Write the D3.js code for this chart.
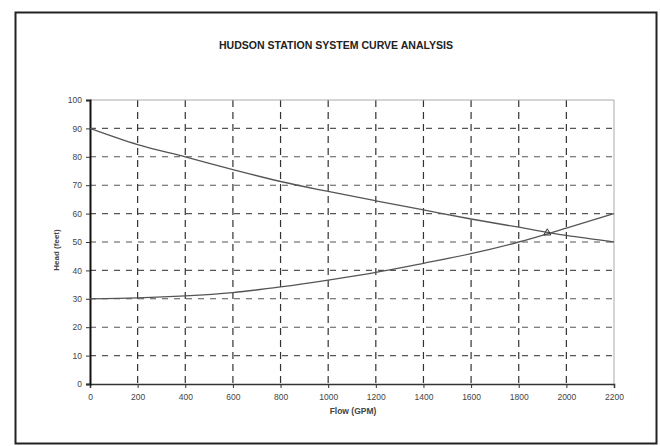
<!DOCTYPE html>
<html>
<head>
<meta charset="utf-8">
<script src="https://cdn.jsdelivr.net/npm/d3@7/dist/d3.min.js"></script>
<style>
  html, body { margin: 0; padding: 0; background: #fff; }
  svg { display: block; font-family: "Liberation Sans", Arial, sans-serif; }
</style>
</head>
<body>
<svg id="chart" width="660" height="446"></svg>
<script>
// ---- data ----
const flows = [0, 200, 400, 600, 800, 1000, 1200, 1400, 1600, 1800, 2000, 2200];
const pumpHead = [90, 84.3, 80, 75.5, 71.3, 67.8, 64.5, 61.3, 58.1, 55.2, 52.3, 50];
const systemHead = [30, 30.3, 31, 32.2, 34.2, 36.6, 39.3, 42.5, 45.9, 50, 54.9, 60];
const operatingPoint = [1920, 53.2];
const xTicks = [0, 200, 400, 600, 800, 1000, 1200, 1400, 1600, 1800, 2000, 2200];
const yTicks = [0, 10, 20, 30, 40, 50, 60, 70, 80, 90, 100];
const titleText = "HUDSON STATION SYSTEM CURVE ANALYSIS";
const xLabel = "Flow (GPM)";
const yLabel = "Head (feet)";

// ---- layout ----
const svg = d3.select("#chart");
const mLeft = 90, mRight = 614, mTop = 100, mBottom = 384;
const x = d3.scaleLinear().domain([0, 2200]).range([mLeft, mRight]);
const y = d3.scaleLinear().domain([0, 100]).range([mBottom, mTop]);

// outer frame
svg.append("rect").attr("x", 15.5).attr("y", 12.5).attr("width", 641).attr("height", 431)
  .attr("fill", "none").attr("stroke", "#222").attr("stroke-width", 2);

// title
svg.append("text").attr("x", 336).attr("y", 49).attr("text-anchor", "middle")
  .attr("font-size", 10).attr("font-weight", "bold").attr("fill", "#222")
  .attr("textLength", 234).attr("lengthAdjust", "spacingAndGlyphs")
  .text(titleText);

// horizontal dashed gridlines
svg.append("g").selectAll("line").data(yTicks.filter(d => d > 0 && d < 100)).join("line")
  .attr("x1", mLeft).attr("x2", mRight).attr("y1", d => y(d)).attr("y2", d => y(d))
  .attr("stroke", "#555").attr("stroke-width", 1.1).attr("stroke-dasharray", "6,6");

// vertical dashed gridlines
svg.append("g").selectAll("line").data(xTicks.filter(d => d > 0 && d < 2200)).join("line")
  .attr("x1", d => x(d)).attr("x2", d => x(d)).attr("y1", mTop).attr("y2", mBottom)
  .attr("stroke", "#333").attr("stroke-width", 1.2).attr("stroke-dasharray", "7,5");

// top and right border (light)
svg.append("line").attr("x1", mLeft).attr("x2", mRight).attr("y1", mTop).attr("y2", mTop)
  .attr("stroke", "#aaa").attr("stroke-width", 1);
svg.append("line").attr("x1", mRight).attr("x2", mRight).attr("y1", mTop).attr("y2", mBottom)
  .attr("stroke", "#aaa").attr("stroke-width", 1);

// axes
const xAxis = d3.axisBottom(x).tickValues(xTicks).tickSize(4).tickPadding(6).tickFormat(d3.format("d"));
const gx = svg.append("g").attr("transform", `translate(0,${mBottom})`).call(xAxis);
gx.select(".domain").attr("stroke", "#333").attr("stroke-width", 1.5);
gx.selectAll(".tick line").attr("stroke", "#333");
gx.selectAll(".tick text").attr("font-size", 8.5).attr("fill", "#444")
  .attr("font-family", "Liberation Sans, Arial, sans-serif");

const yAxis = d3.axisLeft(y).tickValues(yTicks).tickSize(4).tickPadding(4).tickFormat(d3.format("d"));
const gy = svg.append("g").attr("transform", `translate(${mLeft},0)`).call(yAxis);
gy.select(".domain").attr("stroke", "#111").attr("stroke-width", 2);
gy.selectAll(".tick line").attr("stroke", "#333");
gy.selectAll(".tick text").attr("font-size", 8.5).attr("fill", "#444")
  .attr("font-family", "Liberation Sans, Arial, sans-serif");

// curves
const line = d3.line().x(d => x(d[0])).y(d => y(d[1])).curve(d3.curveMonotoneX);
svg.append("path").datum(flows.map((f, i) => [f, pumpHead[i]]))
  .attr("d", line).attr("fill", "none").attr("stroke", "#555").attr("stroke-width", 1.3);
svg.append("path").datum(flows.map((f, i) => [f, systemHead[i]]))
  .attr("d", line).attr("fill", "none").attr("stroke", "#555").attr("stroke-width", 1.3);

// operating point marker
svg.append("path").attr("d", d3.symbol().type(d3.symbolTriangle).size(22))
  .attr("transform", `translate(${x(operatingPoint[0])},${y(operatingPoint[1])})`)
  .attr("fill", "none").attr("stroke", "#333").attr("stroke-width", 1);

// axis titles
svg.append("text").attr("x", 353).attr("y", 414).attr("text-anchor", "middle")
  .attr("font-size", 8.5).attr("font-weight", "bold").attr("fill", "#444").text(xLabel);
svg.append("text").attr("transform", "translate(59,250) rotate(-90)").attr("text-anchor", "middle")
  .attr("font-size", 8).attr("font-weight", "bold").attr("fill", "#444").text(yLabel);
</script>
</body>
</html>
